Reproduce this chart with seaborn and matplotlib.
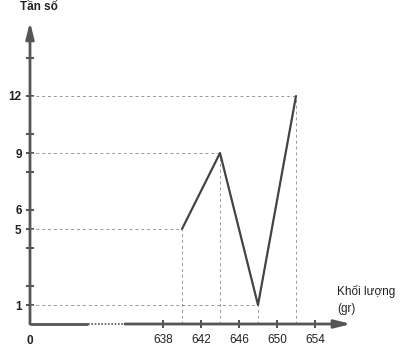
import matplotlib
matplotlib.use("Agg")
import matplotlib.pyplot as plt
import seaborn as sns
import pandas as pd

# Data
weights = [640, 644, 648, 652]
freqs = [5, 9, 1, 12]
x_ticks = [638, 642, 646, 650, 654]
y_ticks_all = [1, 2, 4, 5, 6, 8, 9, 10, 12, 14]
y_labels_shown = [1, 5, 6, 9, 12]

sns.set_theme(style="white")
plt.rcParams['font.family'] = ['Liberation Sans', 'DejaVu Sans']

fig = plt.figure(figsize=(4.02, 3.52), dpi=100)
X0 = 624.0  # position of origin on the broken axis
ax = fig.add_axes([30/402, 28/352, 342/402, 314/352])
ax.set_xlim(X0, X0 + 342/9.5)
ax.set_ylim(0, 314/19)
for s in ax.spines.values():
    s.set_visible(False)

axis_col = '#555555'
# guide lines
ax.hlines(freqs, X0, weights, colors='#999999', linestyles=(0, (3, 3)), linewidth=0.7)
ax.vlines(weights, 0, freqs, colors='#999999', linestyles=(0, (3, 3)), linewidth=0.7)

df = pd.DataFrame({"w": weights, "f": freqs})
sns.lineplot(data=df, x="w", y="f", ax=ax, color='#444444', linewidth=1.6, sort=False)

# axes with break
ax.plot([X0, X0 + 6.1], [0, 0], color=axis_col, lw=2, solid_capstyle='butt', clip_on=False)
ax.plot([X0 + 6.1, X0 + 10.0], [0, 0], color=axis_col, lw=1.2, ls=(0, (1, 1)), clip_on=False)
ax.annotate('', xy=(X0 + 33.8, 0), xytext=(X0 + 10.0, 0),
            arrowprops=dict(arrowstyle='-|>,head_length=0.8,head_width=0.2', color=axis_col, lw=2,
                            shrinkA=0, shrinkB=0), annotation_clip=False)
ax.annotate('', xy=(X0, 15.9), xytext=(X0, 0),
            arrowprops=dict(arrowstyle='-|>,head_length=0.8,head_width=0.2', color=axis_col, lw=2,
                            shrinkA=0, shrinkB=0), annotation_clip=False)

ax.set_xticks(x_ticks)
ax.set_xticklabels([str(v) for v in x_ticks], fontsize=8.5)
ax.set_yticks(y_ticks_all)
ax.set_yticklabels([str(v) if v in y_labels_shown else '' for v in y_ticks_all],
                   fontsize=8.5, fontweight='bold')
ax.tick_params(axis='both', direction='inout', length=6, width=1.1, color='#222222',
               labelcolor='#222222', pad=3, bottom=True, left=True, zorder=5)
ax.tick_params(axis='x', pad=4)
ax.set_xlabel('')
ax.set_ylabel('')

ax.text(X0, -0.6, '0', ha='center', va='top', fontsize=8.5, fontweight='bold', color='#222222')
ax.text(X0 + 0.9, 16.7, 'Tần số', ha='center', va='center', fontsize=8.5, fontweight='bold',
        color='#222222', clip_on=False)
ax.text(X0 + 32.3, 1.7, 'Khối lượng', ha='left', va='center', fontsize=8.5, color='#222222')
ax.text(X0 + 32.3, 0.8, '(gr)', ha='left', va='center', fontsize=8.5, color='#222222')

fig.savefig('out.png', dpi=100)
